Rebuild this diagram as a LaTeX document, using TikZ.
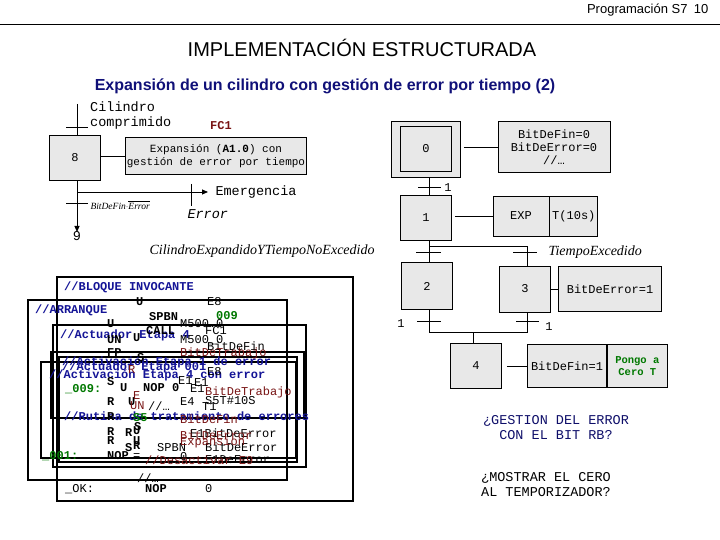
\documentclass[tikz,border=0pt]{standalone}
\usepackage{fontspec}
\setmainfont{Liberation Serif}
\setsansfont{Liberation Sans}
\setmonofont{Liberation Mono}
\usepackage{amsmath}
\usetikzlibrary{calc,arrows.meta}
\definecolor{stepgray}{RGB}{232,232,232}
\definecolor{codeblue}{RGB}{20,20,150}
\definecolor{codered}{RGB}{120,20,20}
\definecolor{codegreen}{RGB}{0,120,0}
\newcommand{\mono}{\ttfamily\fontsize{12}{13}\selectfont}
\newcommand{\bigmono}{\ttfamily\fontsize{13.5}{15}\selectfont}
\begin{document}
\begin{tikzpicture}[x=1pt,y=-1pt,
                    my step/.style={draw,thick,fill=stepgray,minimum width=51pt,minimum height=45pt,font=\mono},
                    my action/.style={draw,thick,fill=stepgray,font=\mono,align=center,inner sep=1pt},
                    my line/.style={thick},
                    my tick/.style={thick},
                    my code/.style={font=\mono,anchor=west,inner sep=0pt},
                    my kw/.style={my code,font=\mono\bfseries},
                    my box/.style={very thick}]
\useasboundingbox (0,0) rectangle (720,540);
% header
\node[anchor=east,font=\sffamily\fontsize{13}{14}\selectfont] (head) at (712,10) {Programación S7\enspace 10};
\draw (0,24) -- (720,24);
\node[font=\sffamily\fontsize{20}{22}\selectfont] (title) at (362,48) {IMPLEMENTACIÓN ESTRUCTURADA};
\node[font=\sffamily\bfseries\fontsize{16}{18}\selectfont,text=codeblue!80!black] (sub) at (325,86) {Expansión de un cilindro con gestión de error por tiempo (2)};
% left grafcet
\node[my step] (s8) at (75,158) {8};
\coordinate (in8) at (77,104);
\draw[my line] (in8) -- (s8.north -| in8);
\draw[my tick] (66,127) -- (88,127);
\node[font=\bigmono,align=left,anchor=west,inner sep=1pt] (cil) at (89,116) {Cilindro\\comprimido};
\node[font=\mono\bfseries,text=codered] (fc) at (221,126) {FC1};
\node[my action,minimum width=175pt,minimum height=37pt,font=\ttfamily\fontsize{11}{12.5}\selectfont] (a8) at (216,156) {Expansión (\textbf{A1.0}) con\\gestión de error por tiempo};
\draw[my line] (s8.east |- a8) -- (a8.west);
\coordinate (out8) at (77,232);
\draw[my line,-{Triangle[length=6pt,width=5pt]}] (s8.south -| out8) -- (out8);
\coordinate (em) at (208,192);
\draw[my line,-{Triangle[length=6pt,width=5pt]}] (77,192) -- (em);
\draw[my tick] (191,184) -- (191,206);
\node[font=\bigmono,anchor=west] (emt) at (212,192) {Emergencia};
\draw[my tick] (66,203) -- (88,203);
\node[font=\itshape\fontsize{9.5}{10}\selectfont,anchor=west] (c89) at (87,205) {BitDeFin$\cdot\overline{\text{Error}}$};
\node[font=\bigmono\itshape,anchor=west] (err) at (184,214) {Error};
\node[font=\bigmono] (n9) at (77,236) {9};
\node[font=\itshape\fontsize{14}{15}\selectfont,anchor=west] (cond2) at (146,251) {CilindroExpandidoYTiempoNoExcedido};
% right grafcet
\node[draw,thick,fill=stepgray,minimum width=69pt,minimum height=56pt] (s0o) at (426,149) {};
\node[my step] (s0) at (426,149) {0};
\node[my action,minimum width=112pt,minimum height=51pt] (a0) at (554,147) {BitDeFin=0\\BitDeError=0\\//\dots};
\draw[my line] ([xshift=3pt]s0o.east |- a0.west) -- (a0.west);
\node[my step] (s1) at (426,218) {1};
\node[my action,minimum width=56pt,minimum height=40pt] (a1a) at (521,216) {EXP};
\node[my action,minimum width=48pt,minimum height=40pt,anchor=west] (a1b) at (a1a.east) {T(10s)};
\draw[my line] ([xshift=3pt]s1.east |- a1a) -- (a1a.west);
\draw[my line] (s0o.south -| 429,0) -- (s1.north -| 429,0);
\draw[my tick] (418,187) -- (441,187);
\node[font=\mono] (t01) at (448,188) {1};
\node[my step,minimum height=47pt] (s2) at (427,286) {2};
\node[my step,minimum height=46pt] (s3) at (525,289) {3};
\node[my action,minimum width=103pt,minimum height=45pt] (a3) at (610,289) {BitDeError=1};
\draw[my line] (s3.east) -- (a3.west);
\coordinate (div) at (429,246);
\draw[my line] (s1.south -| div) -- (s2.north -| div);
\draw[my line] (div) -- (527,246) -- (s3.north -| 527,0);
\draw[my tick] (416,252) -- (441,252);
\draw[my tick] (513,252) -- (537,252);
\node[font=\itshape\fontsize{14}{15}\selectfont,anchor=west] (texc) at (545,252) {TiempoExcedido};
\node[my step] (s4) at (476,366) {4};
\node[my action,minimum width=79pt,minimum height=43pt] (a4a) at (567,366) {BitDeFin=1};
\node[my action,minimum width=60pt,minimum height=43pt,anchor=west,font=\mono\bfseries\fontsize{10.5}{12}\selectfont,text=codegreen] (a4b) at (a4a.east) {Pongo a\\Cero T};
\draw[my line] ([xshift=5pt]s4.east) -- (a4a.west);
\coordinate (conv) at (473,332);
\draw[my line] (s2.south -| 429,0) -- (429,332) -- (527,332) -- (s3.south -| 527,0);
\draw[my line] (conv) -- (s4.north -| conv);
\draw[my tick] (417,321) -- (441,321);
\draw[my tick] (516,321) -- (539,321);
\node[font=\mono] (t24) at (401,324) {1};
\node[font=\mono] (t34) at (549,327) {1};
\node[font=\bigmono,text=codeblue!70!black,align=center] (q1) at (556,428) {¿GESTION DEL ERROR\\CON EL BIT RB?};
\node[font=\bigmono,align=center] (q2) at (546,485) {¿MOSTRAR EL CERO\\AL TEMPORIZADOR?};
% code listing boxes
\draw[my box] (57,277) rectangle (353,501);
\draw[my box] (28,300) rectangle (287,480);
\draw[my box] (53,325) rectangle (306,467);
\draw[my box] (51,352) rectangle (304,418);
\draw[my box] (59,357) rectangle (297,462);
\draw[my box] (41,362) rectangle (296,458);
% code listing texts
\foreach \x/\y/\t in {64/287/{//BLOQUE INVOCANTE},35/310/{//ARRANQUE},60/335/{//Actuador Etapa 4},
                      62/362/{//Activación Etapa 1 de error},62/367/{//Actuador Etapa 001},
                      49/375/{//Activación Etapa 4 con error},64/416/{//Rutina de tratamiento de errores}}
  \node[my kw,text=codeblue] at (\x,\y) {\t};
\foreach \x/\y/\t in {136/302/U,149/317/SPBN,107/324/U,146/331/CALL,107/340/UN,133/338/U,107/353/FP,
                      137/358/S,107/382/S,120/388/U,143/388/{NOP 0},107/402/R,128/402/U,107/417/R,
                      134/427/S,107/432/R,125/433/R,133/431/U,107/441/R,133/441/U,125/448/S,133/446/R,
                      107/456/NOP,145/489/NOP}
  \node[my kw] at (\x,\y) {\t};
\foreach \x/\y/\t in {207/302/E8,180/324/M500.0,205/331/FC1,180/340/M500\_0,207/346/BitDeFin,207/372/E8,
                      178/381/E1,194/383/E1,190/389/E1,180/402/E4,205/401/S5T\#10S,148/406/{//\dots},
                      202/407/T1,157/448/SPBN,190/433/E1BitDeError,205/447/BitDeError,180/457/0,
                      205/460/E1DeError,137/478/{//\dots},65/489/\_OK:,205/489/0,133/457/=}
  \node[my code] at (\x,\y) {\t};
\foreach \x/\y/\t in {180/353/BitDeTrabajo,128/370/R,133/396/E,205/392/BitDeTrabajo,130/406/UN,
                      180/419/BitDeFin,180/435/BitDeError,180/442/Expansion,145/460/{//Desactivar E9}}
  \node[my code,text=codered] at (\x,\y) {\t};
\foreach \x/\y/\t in {216/316/009,65/389/\_009:,42/456/\_001:,133/418/S5}
  \node[my kw,text=codegreen] at (\x,\y) {\t};
\end{tikzpicture}
\end{document}
